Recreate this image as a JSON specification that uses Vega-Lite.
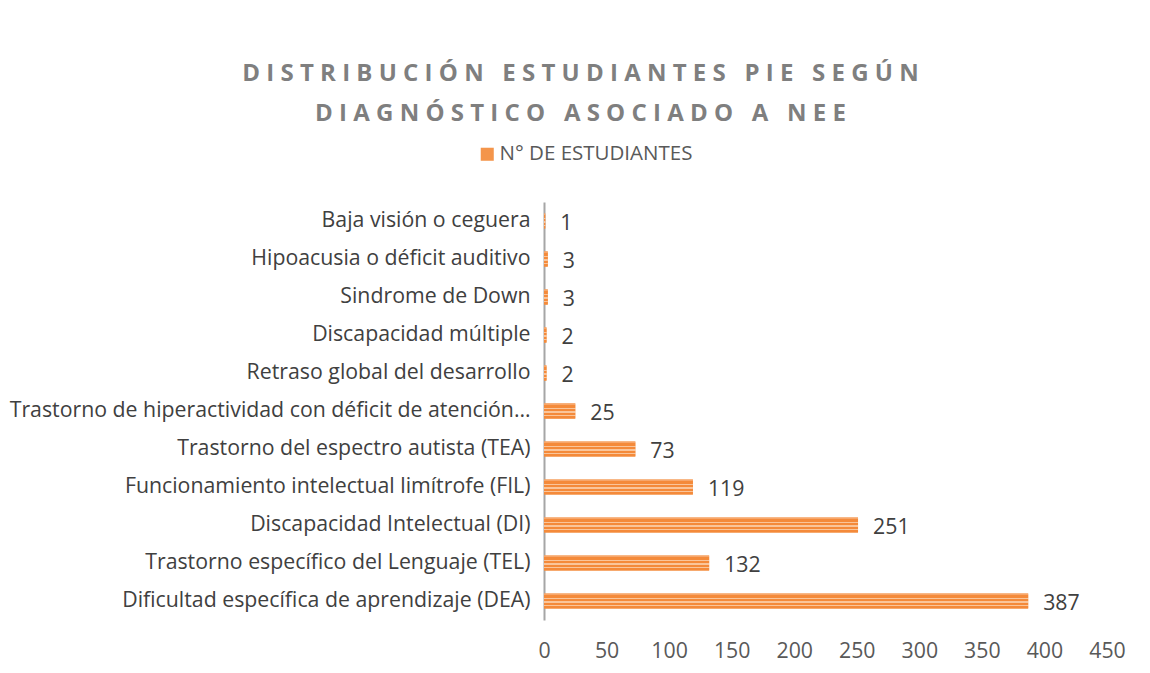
{
  "$schema": "https://vega.github.io/schema/vega-lite/v6.json",
  "autosize": {"type": "none"},
  "padding": {"left": 544, "top": 202, "right": 43, "bottom": 53},
  "width": 563,
  "height": 418,
  "background": "white",
  "title": {
    "text": ["D I S T R I B U C I Ó N \u00A0 E S T U D I A N T E S \u00A0 P I E \u00A0 S E G Ú N", "D I A G N Ó S T I C O \u00A0 A S O C I A D O \u00A0 A \u00A0 N E E"],
    "anchor": "middle",
    "frame": "group",
    "dx": -245,
    "offset": 18,
    "font": "Open Sans",
    "fontSize": 24,
    "fontWeight": "bold",
    "color": "#7F7F7F",
    "lineHeight": 40,
    "limit": 1000
  },
  "data": {
    "values": [
      {"diagnostico": "Baja visión o ceguera", "estudiantes": 1},
      {"diagnostico": "Hipoacusia o déficit auditivo", "estudiantes": 3},
      {"diagnostico": "Sindrome de Down", "estudiantes": 3},
      {"diagnostico": "Discapacidad múltiple", "estudiantes": 2},
      {"diagnostico": "Retraso global del desarrollo", "estudiantes": 2},
      {"diagnostico": "Trastorno de hiperactividad con déficit de atención…", "estudiantes": 25},
      {"diagnostico": "Trastorno del espectro autista (TEA)", "estudiantes": 73},
      {"diagnostico": "Funcionamiento intelectual limítrofe (FIL)", "estudiantes": 119},
      {"diagnostico": "Discapacidad Intelectual (DI)", "estudiantes": 251},
      {"diagnostico": "Trastorno específico del Lenguaje (TEL)", "estudiantes": 132},
      {"diagnostico": "Dificultad específica de aprendizaje (DEA)", "estudiantes": 387}
    ]
  },
  "encoding": {
    "y": {
      "field": "diagnostico",
      "type": "nominal",
      "sort": null,
      "title": null,
      "scale": {"paddingInner": 0.6, "paddingOuter": 0.3},
      "axis": {
        "domain": true,
        "domainColor": "#A6A6A6",
        "domainWidth": 2,
        "ticks": false,
        "labelPadding": 14,
        "labelFont": "Open Sans",
        "labelFontSize": 21.3,
        "labelColor": "#404040",
        "labelLimit": 600,
        "grid": false
      }
    },
    "x": {
      "field": "estudiantes",
      "type": "quantitative",
      "title": null,
      "scale": {"domain": [0, 450], "nice": false},
      "axis": {
        "values": [0, 50, 100, 150, 200, 250, 300, 350, 400, 450],
        "domain": false,
        "ticks": false,
        "grid": false,
        "labelPadding": 20,
        "labelFont": "Open Sans",
        "labelFontSize": 21.3,
        "labelColor": "#595959",
        "labelFlush": false
      }
    }
  },
  "layer": [
    {
      "mark": {"type": "bar"},
      "encoding": {
        "color": {
          "datum": "N° DE ESTUDIANTES",
          "scale": {"range": ["#F4954B"]},
          "legend": {
            "title": null,
            "orient": "none",
            "legendX": -67,
            "legendY": -58,
            "symbolType": "square",
            "symbolSize": 170,
            "symbolStrokeWidth": 0,
            "symbolOpacity": 1,
            "labelFont": "Open Sans",
            "labelFontSize": 20.5,
            "labelColor": "#595959",
            "labelLimit": 400,
            "labelOffset": 2
          }
        }
      }
    },
    {
      "mark": {
        "type": "bar",
        "color": {
          "gradient": "linear",
          "x1": 0, "y1": 0, "x2": 0, "y2": 1,
          "stops": [
            {"offset": 0, "color": "#F7A66A"},
            {"offset": 0.12, "color": "#F7A66A"},
            {"offset": 0.12, "color": "#F48A3A"},
            {"offset": 0.28, "color": "#F48A3A"},
            {"offset": 0.28, "color": "#FAC59A"},
            {"offset": 0.36, "color": "#FAC59A"},
            {"offset": 0.36, "color": "#F48A3A"},
            {"offset": 0.52, "color": "#F48A3A"},
            {"offset": 0.52, "color": "#FAC59A"},
            {"offset": 0.6, "color": "#FAC59A"},
            {"offset": 0.6, "color": "#F48A3A"},
            {"offset": 0.76, "color": "#F48A3A"},
            {"offset": 0.76, "color": "#FAC59A"},
            {"offset": 0.84, "color": "#FAC59A"},
            {"offset": 0.84, "color": "#F48A3A"},
            {"offset": 1, "color": "#F48A3A"}
          ]
        }
      }
    },
    {
      "mark": {
        "type": "text",
        "align": "left",
        "baseline": "middle",
        "dx": 15,
        "dy": 3,
        "font": "Open Sans",
        "fontSize": 21.3,
        "color": "#404040"
      },
      "encoding": {"text": {"field": "estudiantes", "type": "quantitative"}}
    }
  ],
  "config": {"view": {"stroke": null}}
}
